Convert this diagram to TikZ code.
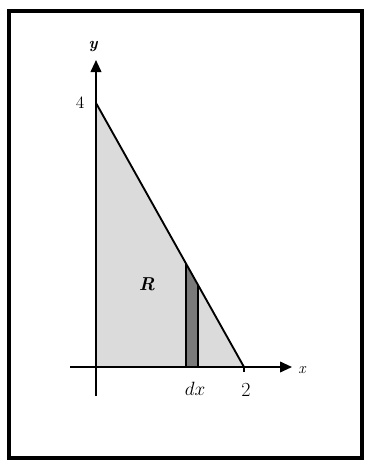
\documentclass[tikz,border=0pt]{standalone}
\usetikzlibrary{arrows.meta,calc}
\begin{document}
\begin{tikzpicture}[x=0.75pt,y=-0.75pt,
  frame/.style={line width=2.4pt},
  axis/.style={line width=1.3pt,-{Triangle[length=9pt,width=8pt]}},
  edge/.style={line width=1.4pt},
  lbl/.style={inner sep=0pt,font=\fontsize{13}{14}\selectfont}]
\useasboundingbox (0,0) rectangle (374,464);
\fill[white] (0,0) rectangle (374,464);
\draw[frame] (9,11) rectangle (362,458);
% key points
\coordinate (A) at (96,103);
\coordinate (B) at (244,367);
\coordinate (O) at (96,367);
\coordinate (ytop) at (96,60);
\coordinate (ybot) at (96,396);
\coordinate (xl) at (70,367);
\coordinate (xr) at (292,367);
% region
\fill[gray!28] (O) -- (A) -- (B) -- cycle;
% strip
\coordinate (s1) at ($(A)!0.608!(B)$);
\coordinate (s2) at ($(A)!0.689!(B)$);
\fill[gray!70!black!80] (s1 |- O) -- (s1) -- (s2) -- (s2 |- O) -- cycle;
\draw[line width=1.5pt] (s1 |- O) -- (s1);
\draw[line width=1.5pt] (s2 |- O) -- (s2);
% axes
\draw[axis] (ybot) -- (ytop);
\draw[axis] (xl) -- (xr);
\draw[edge] (A) -- (B);
\draw[line width=0.8pt] (B) -- ++(0,5);
% labels
\node[lbl,font=\bfseries\itshape\fontsize{12}{13}\selectfont] (ylab) at (93,46) {y};
\node[lbl,font=\itshape\fontsize{12}{13}\selectfont] (xlab) at (302,370) {x};
\node[lbl] (four) at (80,103) {4};
\node[lbl,font=\fontsize{15}{16}\selectfont] (two) at (246,390) {2};
\node[lbl,font=\bfseries\itshape\fontsize{14}{15}\selectfont] (R) at (147,284) {R};
\node[lbl,font=\fontsize{15}{16}\selectfont] (dx) at (195,389) {$dx$};
\end{tikzpicture}
\end{document}
